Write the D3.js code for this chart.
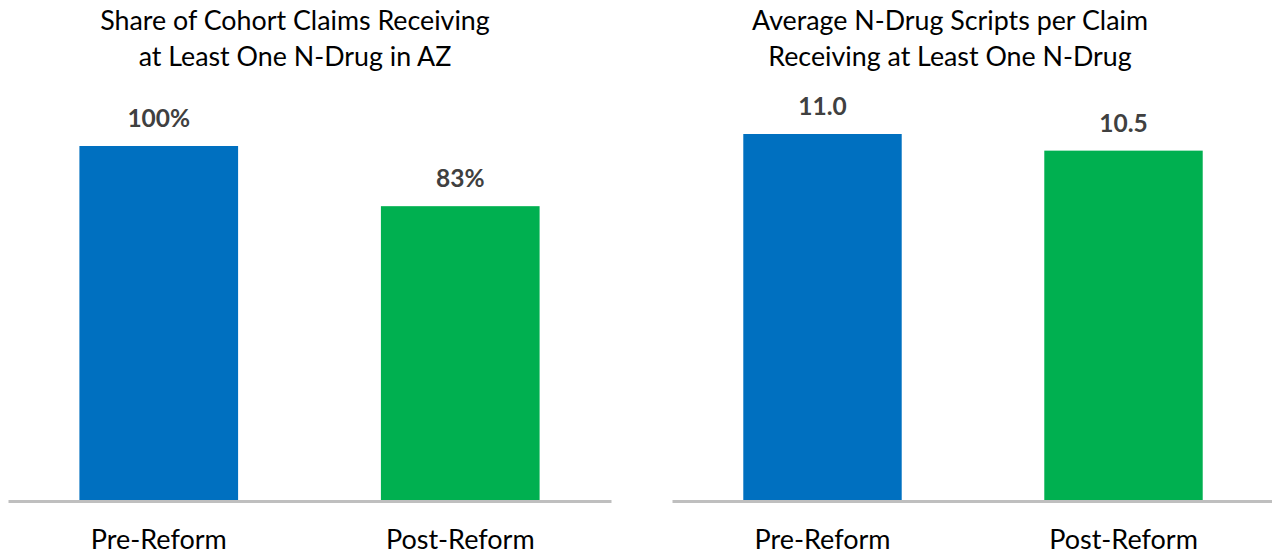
<!DOCTYPE html>
<html>
<head>
<meta charset="utf-8">
<script src="https://cdn.jsdelivr.net/npm/d3@7"></script>
<style>
  html, body { margin: 0; padding: 0; background: #fff; }
  svg { display: block; font-family: Lato, "Open Sans", sans-serif; }
</style>
</head>
<body>
<div id="chart"></div>
<script>
// data
const categories = ["Pre-Reform", "Post-Reform"];
const shareValues = [100, 83];          // % of cohort claims with at least one N-drug
const scriptValues = [11.0, 10.5];      // avg N-drug scripts per claim
const shareTitle = ["Share of Cohort Claims Receiving", "at Least One N-Drug in AZ"];
const scriptTitle = ["Average N-Drug Scripts per Claim", "Receiving at Least One N-Drug"];
const barColors = ["#0070C0", "#00B050"];

const W = 1272, H = 554;
const baseY = 500;

const svg = d3.select("#chart").append("svg")
    .attr("width", W)
    .attr("height", H);

function drawPanel(cfg) {
    const g = svg.append("g");

    // excel style gap width 90%
    const x = d3.scaleBand()
        .domain(categories)
        .range([cfg.x0, cfg.x1])
        .paddingInner(0.9 / 1.9)
        .paddingOuter(0.45 / 1.9);

    const y = d3.scaleLinear()
        .domain([0, cfg.yMax])
        .range([baseY, cfg.yTop]);

    g.selectAll("rect.bar")
        .data(cfg.values)
        .enter()
        .append("rect")
        .attr("class", "bar")
        .attr("x", (d, i) => x(categories[i]))
        .attr("y", d => y(d))
        .attr("width", x.bandwidth())
        .attr("height", d => baseY - y(d))
        .attr("fill", (d, i) => barColors[i]);

    // value labels
    g.selectAll("text.val")
        .data(cfg.values)
        .enter()
        .append("text")
        .attr("class", "val")
        .attr("x", (d, i) => x(categories[i]) + x.bandwidth() / 2)
        .attr("y", d => y(d) - 19)
        .attr("text-anchor", "middle")
        .attr("font-size", 24.5)
        .attr("font-weight", "bold")
        .attr("fill", "#404040")
        .text(cfg.fmt);

    // baseline axis
    const axis = g.append("g")
        .attr("transform", `translate(0,${baseY + 1})`)
        .call(d3.axisBottom(x).tickSize(0).tickPadding(29));
    axis.select(".domain")
        .attr("stroke", "#BFBFBF")
        .attr("stroke-width", 3);
    axis.selectAll(".tick text")
        .attr("font-family", "Lato, 'Open Sans', sans-serif")
        .attr("font-size", 27)
        .attr("fill", "#000");

    // title, two lines
    g.append("text")
        .attr("x", cfg.titleX)
        .attr("text-anchor", "middle")
        .attr("font-size", 26.8)
        .attr("fill", "#000")
        .selectAll("tspan")
        .data(cfg.title)
        .enter()
        .append("tspan")
        .attr("x", cfg.titleX)
        .attr("y", (d, i) => 30 + i * 36)
        .text(d => d);
}

drawPanel({
    x0: 8, x1: 611, yMax: 100, yTop: 146,
    values: shareValues, title: shareTitle, titleX: 295,
    fmt: d => d3.format(".0f")(d) + "%"
});

drawPanel({
    x0: 672, x1: 1274, yMax: 11, yTop: 134,
    values: scriptValues, title: scriptTitle, titleX: 950,
    fmt: d => d3.format(".1f")(d)
});
</script>
</body>
</html>
